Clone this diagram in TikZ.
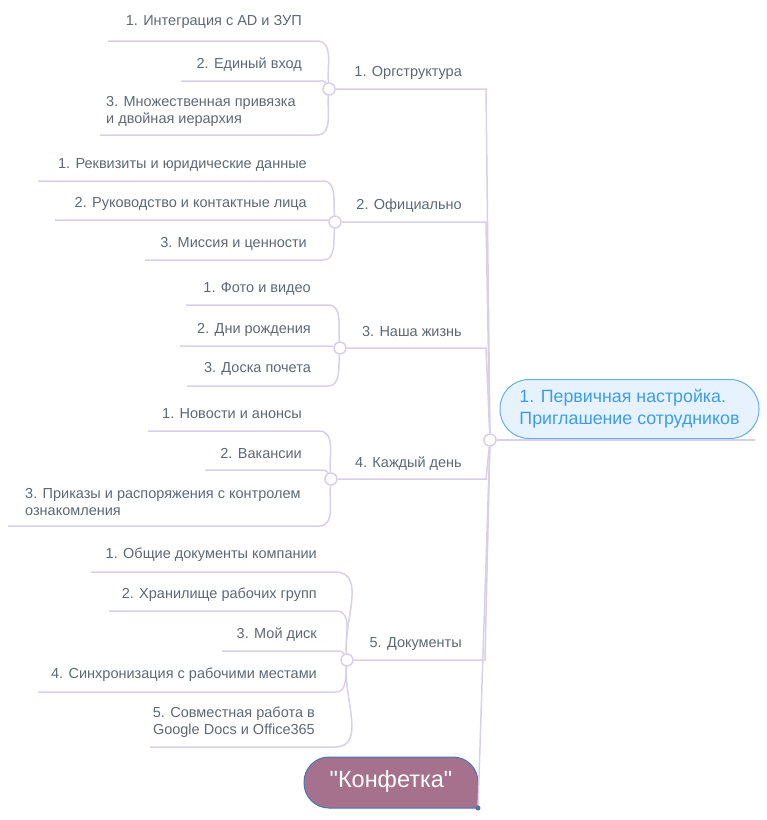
\documentclass[tikz,border=0pt]{standalone}
\usepackage{fontspec}
\setmainfont{Liberation Sans}
\newfontfamily\konffont[Ligatures=TeXOff]{Liberation Sans}
\usetikzlibrary{calc}
\definecolor{ln}{HTML}{D8CFEA}
\definecolor{tx}{HTML}{5D6873}
\definecolor{rootfill}{HTML}{E6F3FE}
\definecolor{rootdraw}{HTML}{62AEEE}
\definecolor{roottext}{HTML}{3E9CEB}
\definecolor{kfill}{HTML}{A6718C}
\definecolor{kdraw}{HTML}{4577B5}
\newcommand\leafln[4]{%
  \draw[conn] (#1) to[out=#3,in=0] ($(#1.center |- #2)+(#4,0)$) -- (#2);}
\begin{document}
\begin{tikzpicture}[x=1pt,y=-1pt,
  conn/.style={draw=ln,line width=1.5pt},
  knob/.style={circle,draw=ln,fill=white,line width=1.5pt,minimum size=12pt,inner sep=0pt},
  leaf/.style={font=\fontsize{14.5}{17}\selectfont,text=tx,inner sep=0pt,anchor=east},
  leafl/.style={leaf,anchor=west,align=left},
  leafr/.style={leaf,anchor=east,align=right},
  branch/.style={leaf},
  rootbox/.style={draw=rootdraw,fill=rootfill,line width=1pt,rounded corners=29pt,
    minimum width=259pt,minimum height=59pt,inner sep=0pt,align=left,text=roottext,
    font=\fontsize{17.8}{22}\selectfont},
  konfbox/.style={draw=kdraw,fill=kfill,line width=1pt,rounded corners=25pt,line cap=rect},
  konftext/.style={font=\konffont\fontsize{23.5}{26}\selectfont,text=white,inner sep=0pt},
  kdotst/.style={circle,fill=kdraw,inner sep=0pt,minimum size=5pt}
]
\useasboundingbox (0,0) rectangle (767,820);

% root
\node[rootbox] (root) at (629.5,409) {1. Первичная настройка.\\Приглашение сотрудников};
\node[knob] (rk) at (490,440) {};
\coordinate (rend) at (755,440);
\draw[conn] (rk) -- (rend);

% Konfetka
\path[konfbox] (478,808) -- (304,808) -- (304,757) -- (478,757) -- (478,808);
\node[konftext] (konf) at (391,781) {"Конфетка"};
\node[kdotst] (kdot) at (478,808) {};
\draw[conn] (kdot) -- (rk);

% branches
\node[branch] (b1) at (462,73) {1. Оргструктура};
\node[branch] (b2) at (462,206) {2. Официально};
\node[branch] (b3) at (462,332) {3. Наша жизнь};
\node[branch] (b4) at (462,464) {4. Каждый день};
\node[branch] (b5) at (462,644) {5. Документы};

\node[knob] (k1) at (329,89) {};
\node[knob] (k2) at (335,222) {};
\node[knob] (k3) at (340,348) {};
\node[knob] (k4) at (331,479) {};
\node[knob] (k5) at (347,660) {};

\coordinate (t1) at (486,89);
\coordinate (t2) at (486,222);
\coordinate (t3) at (486,348);
\coordinate (t4) at (486,479);
\coordinate (t5) at (485,660);
\foreach \i in {1,...,5} {\draw[conn] (rk) -- (t\i) -- (k\i);}

% branch 1 leaves
\node[leaf] (l11) at (302,22) {1. Интеграция с AD и ЗУП};
\node[leaf] (l12) at (302,65) {2. Единый вход};
\node[leafl] (l13) at (106,111) {3. Множественная привязка\\и двойная иерархия};
\coordinate (u11) at (108,41);
\coordinate (u12) at (181,81);
\coordinate (u13) at (100,135);
\leafln{k1}{u11}{95}{-12}
\leafln{k1}{u12}{115}{-10}
\leafln{k1}{u13}{-95}{-12}

% branch 2 leaves
\node[leaf] (l21) at (307,165) {1. Реквизиты и юридические данные};
\node[leaf] (l22) at (307,204) {2. Руководство и контактные лица};
\node[leaf] (l23) at (307,244) {3. Миссия и ценности};
\coordinate (u21) at (38,181);
\coordinate (u22) at (55,220);
\coordinate (u23) at (145,260);
\leafln{k2}{u21}{95}{-12}
\leafln{k2}{u22}{165}{-9}
\leafln{k2}{u23}{-95}{-12}

% branch 3 leaves
\node[leaf] (l31) at (311,289) {1. Фото и видео};
\node[leaf] (l32) at (311,330) {2. Дни рождения};
\node[leaf] (l33) at (311,369) {3. Доска почета};
\coordinate (u31) at (186,305);
\coordinate (u32) at (180,346);
\coordinate (u33) at (187,386);
\leafln{k3}{u31}{95}{-12}
\leafln{k3}{u32}{170}{-9}
\leafln{k3}{u33}{-95}{-12}

% branch 4 leaves
\node[leaf] (l41) at (302,414) {1. Новости и анонсы};
\node[leaf] (l42) at (302,454) {2. Вакансии};
\node[leafl] (l43) at (25,502) {3. Приказы и распоряжения с контролем\\ознакомления};
\coordinate (u41) at (148,431);
\coordinate (u42) at (205,470);
\coordinate (u43) at (8,526);
\leafln{k4}{u41}{95}{-12}
\leafln{k4}{u42}{115}{-10}
\leafln{k4}{u43}{-95}{-12}

% branch 5 leaves
\node[leaf] (l51) at (317,555) {1. Общие документы компании};
\node[leaf] (l52) at (317,595) {2. Хранилище рабочих групп};
\node[leaf] (l53) at (317,635) {3. Мой диск};
\node[leaf] (l54) at (317,675) {4. Синхронизация с рабочими местами};
\node[leafr] (l55) at (315,722) {5. Совместная работа в\\Google Docs и Office365};
\coordinate (u51) at (91,572);
\coordinate (u52) at (109,611);
\coordinate (u53) at (222,651);
\coordinate (u54) at (38,692);
\coordinate (u55) at (150,747);
\leafln{k5}{u51}{95}{-12}
\leafln{k5}{u52}{95}{-11}
\leafln{k5}{u53}{115}{-9}
\leafln{k5}{u54}{-95}{-11}
\leafln{k5}{u55}{-95}{-12}
\end{tikzpicture}
\end{document}
